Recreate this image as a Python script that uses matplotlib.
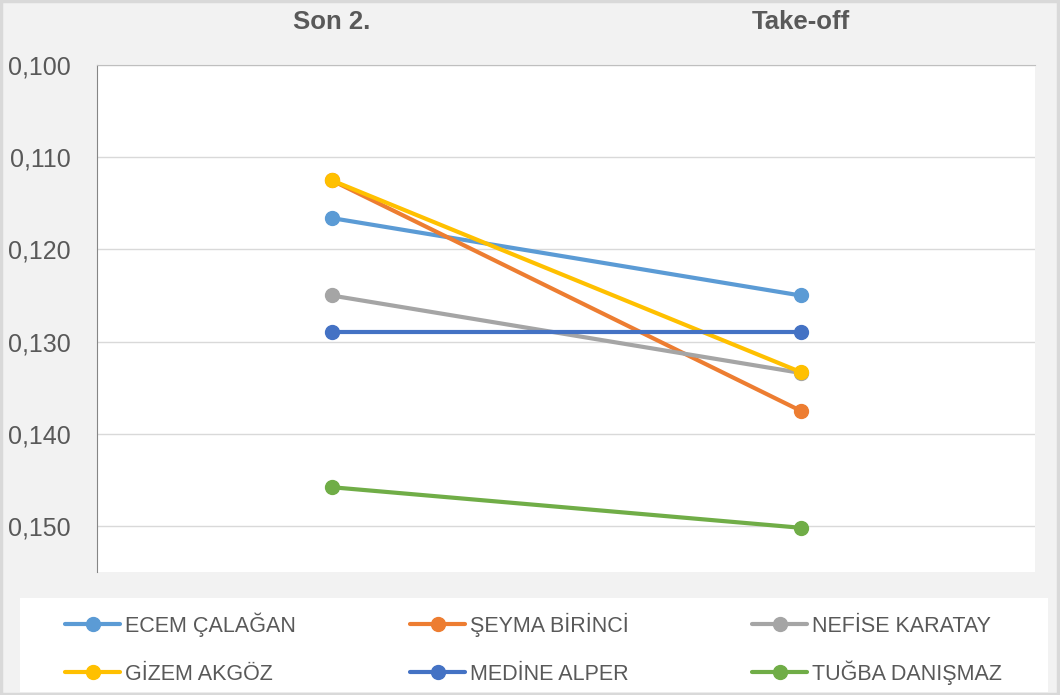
import matplotlib.pyplot as plt
from matplotlib.patches import Rectangle
from matplotlib.lines import Line2D
from matplotlib.ticker import FuncFormatter

plt.rcParams['font.family'] = ['Liberation Sans', 'DejaVu Sans']

# veriler
categories = ['Son 2.', 'Take-off']
names = ['ECEM ÇALAĞAN', 'ŞEYMA BİRİNCİ', 'NEFİSE KARATAY',
         'GİZEM AKGÖZ', 'MEDİNE ALPER', 'TUĞBA DANIŞMAZ']
son2 = [0.1166, 0.1125, 0.1250, 0.1125, 0.1290, 0.1458]
takeoff = [0.1250, 0.1375, 0.1334, 0.1333, 0.1290, 0.1502]
colors = ['#5B9BD5', '#ED7D31', '#A5A5A5', '#FFC000', '#4472C4', '#70AD47']
yticks = [0.100, 0.110, 0.120, 0.130, 0.140, 0.150]

W, H = 1060, 695
fig = plt.figure(figsize=(10.6, 6.95), dpi=100)
fig.patch.set_facecolor('#f2f2f2')
fig.patches.append(Rectangle((0.001, 0.002), 0.997, 0.996, transform=fig.transFigure,
                             facecolor='none', edgecolor='#d9d9d9', lw=2.5))
# legend kutusu
fig.patches.append(Rectangle((20/W, 1-692/H), 1028/W, 94/H, transform=fig.transFigure,
                             facecolor='white', edgecolor='none'))

ax = fig.add_axes([97/W, 1-572/H, 938/W, 507/H])
ax.set_facecolor('white')

x = [0.5, 1.5]
for n, a, b, c in zip(names, son2, takeoff, colors):
    ax.plot(x, [a, b], color=c, lw=3, marker='o', markersize=10,
            solid_capstyle='round', label=n)

ax.set_xlim(0, 2)
ax.set_ylim(0.155, 0.100)
ax.set_yticks(yticks)
ax.yaxis.set_major_formatter(FuncFormatter(lambda v, p: f'{v:.3f}'.replace('.', ',')))
ax.grid(axis='y', color='#d9d9d9', lw=1)
ax.set_axisbelow(True)

ax.xaxis.tick_top()
ax.set_xticks(x)
ax.set_xticklabels(categories, fontsize=18.5, fontweight='bold', color='#595959')
ax.tick_params(axis='x', length=0, pad=22)
ax.tick_params(axis='y', length=0, pad=19, labelsize=18, labelcolor='#595959')

for s in ['right', 'bottom']:
    ax.spines[s].set_visible(False)
ax.spines['left'].set_color('#868686')
ax.spines['top'].set_color('#bfbfbf')

# legend: 3 sütun x 2 satır, elle yerleştirildi
col_x = [65, 410, 752]
row_y = [624, 672]
for i, (n, c) in enumerate(zip(names, colors)):
    px = col_x[i % 3]
    py = row_y[i // 3]
    fig.add_artist(Line2D([px/W, (px+55)/W], [1-py/H, 1-py/H], transform=fig.transFigure,
                          color=c, lw=3, solid_capstyle='round'))
    fig.add_artist(Line2D([(px+27.5)/W], [1-py/H], transform=fig.transFigure,
                          color=c, marker='o', markersize=10, lw=0))
    fig.text((px+60)/W, 1-(py+7.7)/H, n, fontsize=15.5, color='#595959',
             ha='left', va='baseline')

fig.savefig('out.png', dpi=100, facecolor=fig.get_facecolor())
